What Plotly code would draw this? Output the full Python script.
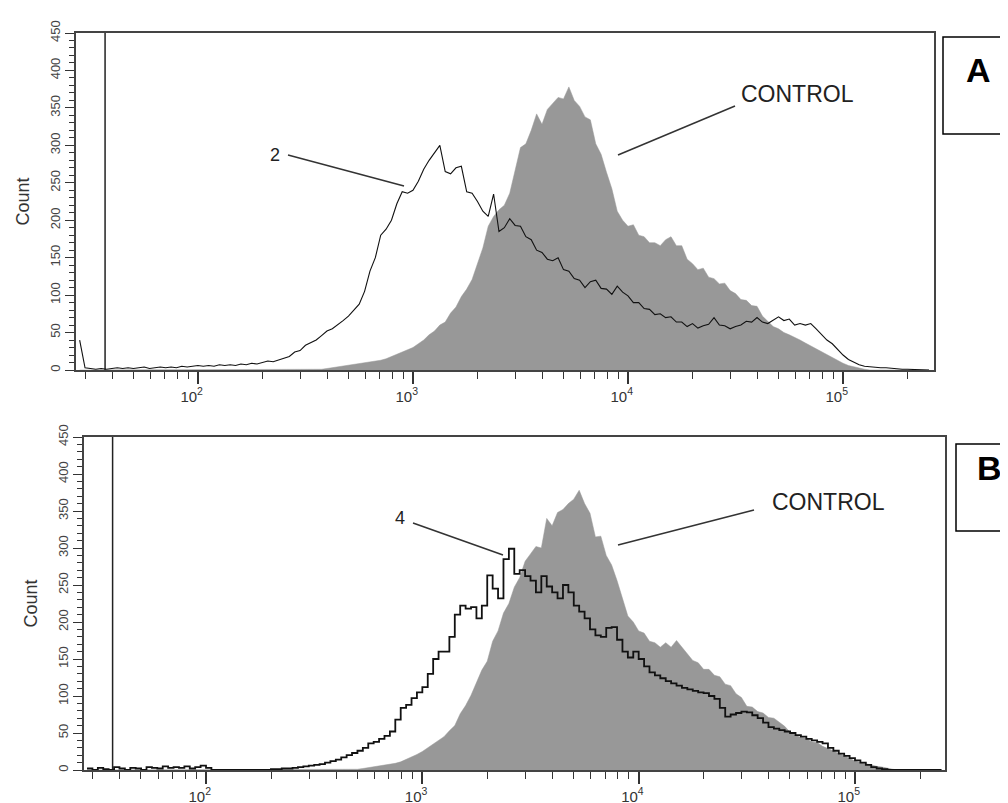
import numpy as np
import plotly.graph_objects as go

# histogram bins: log10 of fluorescence channel, 0.025 steps from 1.45 to 5.40
log_channel = np.round(np.arange(1.45, 5.4001, 0.025), 3)
channel = 10 ** log_channel

# panel A
control_a = [
    0, 0, 0, 0, 0, 0, 0, 0,
    0, 0, 0, 0, 0, 0, 0, 0,
    0, 0, 0, 0, 0, 0, 0, 0,
    0, 0, 0, 0, 0, 0, 0, 0,
    0, 0, 0, 0, 0, 0, 0, 0,
    0, 0, 0, 1, 1, 1, 2, 3,
    4, 5, 6, 7, 8, 9, 10, 11,
    13, 15, 18, 21, 24, 26, 30, 35,
    40, 47, 52, 60, 64, 76, 84, 98,
    108, 121, 142, 163, 192, 205, 214, 220,
    236, 268, 297, 302, 320, 342, 328, 348,
    356, 364, 362, 378, 360, 352, 338, 334,
    302, 288, 264, 242, 212, 200, 192, 194,
    180, 178, 170, 170, 166, 174, 178, 166,
    166, 148, 142, 134, 136, 124, 122, 115,
    116, 106, 102, 94, 93, 86, 85, 72,
    65, 58, 55, 50, 47, 44, 40, 36,
    32, 28, 24, 20, 16, 12, 9, 6,
    4, 2, 1, 0, 0, 0, 0, 0,
    0, 0, 0, 0, 0, 0, 0,
]
sample_2 = [
    40, 3, 2, 1, 2, 1, 2, 3,
    2, 3, 2, 3, 4, 2, 3, 4,
    3, 4, 3, 5, 4, 5, 6, 5,
    6, 5, 7, 6, 7, 6, 8, 7,
    9, 8, 10, 12, 11, 13, 15, 18,
    24, 26, 33, 36, 40, 46, 52, 55,
    60, 66, 72, 80, 88, 105, 132, 150,
    180, 188, 200, 222, 238, 236, 240, 252,
    268, 280, 290, 300, 265, 262, 270, 272,
    238, 236, 225, 212, 205, 235, 185, 190,
    202, 193, 192, 178, 174, 160, 157, 148,
    146, 150, 134, 132, 122, 120, 110, 118,
    120, 109, 108, 101, 112, 104, 99, 90,
    90, 82, 81, 74, 75, 70, 71, 64,
    64, 58, 62, 56, 59, 61, 70, 60,
    59, 55, 58, 60, 65, 64, 70, 64,
    62, 67, 71, 66, 68, 60, 62, 60,
    62, 55, 47, 40, 35, 27, 20, 14,
    10, 7, 5, 4, 3, 3, 3, 2,
    2, 1, 1, 1, 0, 0, 0,
]

# panel B
control_b = [
    0, 0, 0, 0, 0, 0, 0, 0,
    0, 0, 0, 0, 0, 0, 0, 0,
    0, 0, 0, 0, 0, 0, 0, 0,
    0, 0, 0, 0, 0, 0, 0, 0,
    0, 0, 0, 0, 0, 0, 0, 0,
    0, 0, 0, 0, 0, 0, 0, 0,
    0, 1, 1, 2, 3, 4, 5, 6,
    7, 9, 11, 14, 17, 21, 25, 30,
    35, 41, 45, 53, 60, 76, 87, 101,
    117, 135, 147, 174, 188, 212, 225, 247,
    260, 282, 292, 302, 300, 340, 330, 348,
    352, 360, 366, 378, 360, 347, 315, 316,
    290, 277, 256, 232, 208, 200, 188, 185,
    174, 172, 166, 172, 166, 175, 166, 158,
    148, 145, 136, 136, 128, 126, 116, 114,
    103, 98, 86, 85, 79, 77, 71, 70,
    65, 59, 51, 48, 44, 43, 38, 37,
    32, 29, 26, 23, 20, 16, 12, 10,
    8, 7, 5, 4, 2, 1, 0, 0,
    0, 0, 0, 0, 0, 0, 0,
]
sample_4 = [
    2, 0, 3, 1, 0, 4, 2, 0,
    3, 2, 0, 4, 3, 2, 5, 3,
    4, 3, 5, 2, 4, 6, 3, 0,
    0, 0, 0, 0, 0, 0, 0, 0,
    0, 0, 1, 1, 2, 2, 3, 4,
    5, 6, 7, 8, 10, 12, 14, 17,
    20, 23, 26, 30, 36, 38, 42, 46,
    52, 68, 84, 88, 97, 105, 112, 130,
    150, 160, 160, 180, 210, 222, 218, 220,
    205, 222, 263, 245, 232, 285, 299, 265,
    270, 262, 256, 240, 262, 248, 240, 232,
    250, 240, 222, 214, 205, 190, 182, 180,
    192, 193, 176, 160, 152, 160, 150, 140,
    132, 128, 124, 120, 117, 114, 111, 109,
    107, 105, 104, 100, 96, 84, 72, 75,
    77, 79, 78, 74, 70, 64, 58, 56,
    54, 52, 50, 47, 45, 42, 40, 38,
    36, 30, 26, 22, 19, 16, 13, 10,
    7, 4, 2, 1, 0, 0, 0, 0,
    0, 0, 0, 0, 0, 0, 0,
]

gate_channel = 37
count_max = 450
decade_ticks = [1e2, 1e3, 1e4, 1e5]
decade_text = ["10<sup>%d</sup>&nbsp;&nbsp;&nbsp;" % e for e in (2, 3, 4, 5)]
minor_ticks = [m * 10 ** e for e in range(1, 6) for m in range(2, 10)]

W, H = 1008, 803
FONT = "Liberation Sans, Arial, sans-serif"
GRAY = "#989898"


def px(x):
    return x / W


def py(y):
    return 1 - y / H


fig = go.Figure()

panels = [
    ("x", "y", control_a, sample_2, "linear", 1.1),
    ("x2", "y2", control_b, sample_4, "hv", 1.8),
]
for xa, ya, ctrl, smp, shape, lw in panels:
    fig.add_trace(go.Scatter(x=channel, y=ctrl, mode="lines",
                             line=dict(color=GRAY, width=0.5), fill="tozeroy",
                             fillcolor=GRAY, xaxis=xa, yaxis=ya, showlegend=False))
    fig.add_trace(go.Scatter(x=[gate_channel, gate_channel], y=[0, count_max], mode="lines",
                             line=dict(color="#222", width=1.5), xaxis=xa, yaxis=ya,
                             showlegend=False))
    fig.add_trace(go.Scatter(x=channel, y=smp, mode="lines", line_shape=shape,
                             line=dict(color="#111", width=lw), xaxis=xa, yaxis=ya,
                             showlegend=False))

xcommon = dict(type="log", tickvals=decade_ticks, ticktext=decade_text, ticks="outside",
               ticklen=12, tickwidth=1.5, tickcolor="#333",
               minor=dict(tickvals=minor_ticks, ticks="outside", ticklen=7, tickwidth=1.3,
                          tickcolor="#333"),
               showline=True, linecolor="#444", linewidth=1.5, mirror=True,
               showgrid=False, zeroline=False, automargin=False,
               tickfont=dict(family=FONT, size=15, color="#333"))
ycommon = dict(range=[0, count_max], tick0=0, dtick=50, ticks="outside", ticklen=9,
               tickwidth=1.3, tickcolor="#333", tickangle=-90,
               minor=dict(dtick=10, ticks="outside", ticklen=5, tickwidth=1, tickcolor="#333"),
               showline=True, linecolor="#444", linewidth=1.5, mirror=True,
               showgrid=False, zeroline=False, automargin=False,
               tickfont=dict(family=FONT, size=13, color="#444"),
               title=dict(text="Count", standoff=14, font=dict(family=FONT, size=18, color="#333")))

fig.update_layout(
    width=W, height=H, autosize=False,
    margin=dict(l=0, r=0, t=0, b=0),
    paper_bgcolor="white", plot_bgcolor="white",
    xaxis=dict(xcommon, domain=[px(68), px(926)], range=[1.433, 5.423], anchor="y"),
    yaxis=dict(ycommon, domain=[py(362), py(25)], anchor="x"),
    xaxis2=dict(xcommon, domain=[px(76), px(937)], range=[1.436, 5.416], anchor="y2"),
    yaxis2=dict(ycommon, domain=[py(762), py(429)], anchor="x2"),
)

# leader lines and labels
leaders = [
    ((280, 147), (396, 178)),
    ((610, 147), (727, 98)),
    ((405, 515), (495, 547)),
    ((610, 537), (746, 502)),
]
for (x0, y0), (x1, y1) in leaders:
    fig.add_shape(type="line", xref="paper", yref="paper", x0=px(x0), y0=py(y0),
                  x1=px(x1), y1=py(y1), line=dict(color="#333", width=1.5))

labels = [
    ("2", 267, 147, 18, "center"),
    ("CONTROL", 731, 86, 23, "left"),
    ("4", 392, 510, 18, "center"),
    ("CONTROL", 762, 494, 23, "left"),
]
for text, x, y, size, anchor in labels:
    fig.add_annotation(text=text, xref="paper", yref="paper", x=px(x), y=py(y),
                       xanchor=anchor, yanchor="middle", showarrow=False,
                       font=dict(family=FONT, size=size, color="#222"))

# panel letters in boxes
for letter, (x0, y0, x1, y1), (cx, cy) in [
    ("A", (935, 29, 1012, 126), (970, 62)),
    ("B", (948, 436, 1012, 523), (981, 460)),
]:
    fig.add_shape(type="rect", xref="paper", yref="paper", x0=px(x0), y0=py(y0),
                  x1=px(x1), y1=py(y1), line=dict(color="black", width=1.5))
    fig.add_annotation(text="<b>%s</b>" % letter, xref="paper", yref="paper",
                       x=px(cx), y=py(cy), showarrow=False, xanchor="center", yanchor="middle",
                       font=dict(family=FONT, size=34, color="black"))

fig.write_html("out.html")
